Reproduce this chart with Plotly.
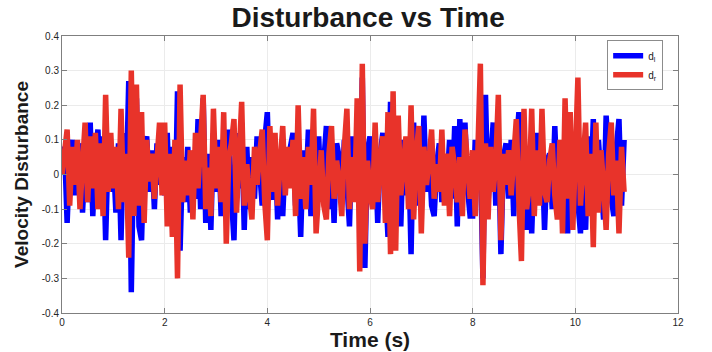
import plotly.graph_objects as go

dt = 0.05

# Estimated samples, one row per second (t = 0.00 .. 10.95 in steps of 0.05)
d_l = [
    0.00, 0.08, -0.14, 0.05, 0.10, -0.06, 0.02, 0.09, -0.11, 0.04, -0.08, 0.15, -0.12, 0.06, 0.13, -0.07, 0.11, -0.19, 0.08, -0.05,
    0.05, -0.11, 0.09, -0.19, 0.12, -0.05, 0.27, -0.34, 0.10, 0.22, -0.15, -0.19, 0.08, 0.11, -0.05, 0.07, -0.10, 0.09, -0.03, 0.14,
    -0.06, 0.12, -0.10, 0.08, -0.14, 0.24, -0.22, 0.05, -0.08, 0.08, -0.11, 0.03, -0.07, 0.16, -0.10, 0.22, -0.14, 0.06, -0.16, 0.12,
    -0.05, 0.10, -0.12, 0.07, -0.09, 0.13, -0.06, -0.19, 0.12, -0.04, 0.15, -0.16, 0.08, -0.10, 0.05, -0.07, 0.11, -0.01, -0.09, 0.10,
    0.18, -0.06, -0.07, 0.09, -0.13, 0.06, -0.12, 0.05, -0.03, 0.08, 0.12, -0.09, 0.04, -0.18, 0.07, -0.05, 0.13, -0.12, 0.06, -0.08,
    0.11, -0.07, 0.03, 0.14, -0.10, 0.06, -0.14, 0.09, 0.05, -0.08, 0.10, -0.04, -0.15, 0.11, -0.06, 0.08, -0.10, 0.28, -0.27, 0.07,
    0.11, -0.04, 0.09, -0.14, 0.06, 0.12, -0.07, -0.18, 0.21, -0.12, 0.14, -0.04, -0.15, 0.10, -0.06, 0.08, -0.23, 0.15, -0.09, 0.05,
    -0.10, 0.17, -0.05, 0.07, -0.09, -0.12, 0.03, 0.09, -0.08, 0.05, -0.03, 0.10, -0.07, 0.14, -0.15, 0.16, -0.06, 0.15, -0.04, -0.12,
    -0.12, 0.10, -0.05, 0.06, -0.30, 0.23, -0.08, 0.04, 0.15, -0.09, 0.11, -0.23, 0.05, 0.09, -0.07, 0.10, -0.12, 0.08, 0.18, -0.14,
    0.12, -0.16, 0.08, -0.17, 0.05, 0.12, -0.06, 0.09, -0.16, 0.04, 0.06, -0.10, 0.14, -0.05, 0.08, -0.11, 0.13, -0.17, 0.07, -0.04,
    0.09, -0.08, -0.17, 0.06, -0.16, 0.11, -0.05, 0.16, -0.08, 0.10, -0.04, -0.13, 0.17, 0.06, -0.07, -0.12, 0.08, 0.16, -0.09, 0.10,
]

d_r = [
    0.00, 0.06, 0.13, -0.09, 0.08, -0.03, 0.10, -0.10, 0.05, 0.15, -0.08, 0.11, -0.04, 0.12, -0.10, 0.09, -0.12, 0.23, -0.05, 0.12,
    -0.04, 0.08, -0.10, 0.19, -0.08, 0.06, -0.24, 0.30, -0.12, 0.26, -0.09, 0.18, -0.14, 0.10, -0.02, 0.06, -0.07, 0.04, 0.15, -0.06,
    0.15, -0.15, 0.06, -0.18, 0.10, -0.30, 0.26, -0.08, 0.04, -0.06, 0.07, -0.13, 0.12, -0.04, 0.09, 0.23, -0.10, 0.02, -0.12, 0.19,
    -0.04, 0.08, -0.08, 0.18, -0.20, 0.05, 0.09, 0.16, -0.11, 0.06, 0.21, -0.09, 0.03, -0.06, -0.13, 0.08, -0.03, 0.06, 0.13, -0.08,
    -0.19, 0.14, -0.05, 0.12, -0.09, 0.03, 0.14, -0.06, 0.08, -0.04, 0.10, -0.12, 0.20, -0.07, 0.05, -0.10, 0.08, -0.03, 0.19, -0.17,
    -0.04, 0.07, -0.09, -0.13, 0.06, 0.14, -0.07, 0.04, -0.02, -0.12, 0.08, 0.19, -0.10, 0.05, -0.08, 0.22, -0.28, 0.32, -0.20, 0.04,
    -0.05, -0.10, 0.15, -0.08, 0.04, 0.11, -0.14, 0.18, -0.23, 0.24, -0.22, 0.17, -0.06, 0.03, 0.11, -0.10, 0.20, -0.13, 0.06, 0.14,
    -0.17, 0.08, -0.03, 0.04, 0.13, -0.07, 0.03, -0.05, 0.13, -0.09, 0.06, -0.12, 0.08, 0.02, -0.08, 0.05, -0.12, 0.13, 0.03, -0.07,
    0.07, -0.12, 0.06, 0.32, -0.32, 0.09, -0.13, 0.08, -0.05, 0.03, 0.23, -0.19, 0.06, -0.03, 0.07, -0.06, 0.05, 0.16, -0.08, -0.25,
    0.19, -0.10, -0.04, 0.19, -0.12, 0.07, -0.09, 0.19, -0.05, -0.08, 0.04, 0.09, -0.06, -0.13, 0.10, -0.17, 0.22, -0.07, 0.18, -0.16,
    0.05, 0.28, -0.09, 0.04, 0.15, -0.12, 0.06, -0.21, 0.15, -0.11, 0.07, -0.03, -0.16, 0.06, 0.15, -0.06, 0.04, -0.17, 0.08, -0.05,
]

time = [round(i * dt, 2) for i in range(len(d_l))]

x_ticks = [0, 2, 4, 6, 8, 10, 12]
y_ticks = [-0.4, -0.3, -0.2, -0.1, 0, 0.1, 0.2, 0.3, 0.4]
y_tick_labels = ["-0.4", "-0.3", "-0.2", "-0.1", "0", "0.1", "0.2", "0.3", "0.4"]

FONT = "Liberation Sans, Arial, sans-serif"

fig = go.Figure()
fig.add_trace(go.Scatter(x=time, y=d_l, mode="lines", name="d<sub>l</sub>",
                         line=dict(color="#0000ff", width=5.5)))
fig.add_trace(go.Scatter(x=time, y=d_r, mode="lines", name="d<sub>r</sub>",
                         line=dict(color="#e8332a", width=5.5)))

axis_common = dict(
    showgrid=True, gridcolor="#ebebeb", gridwidth=1,
    showline=True, linecolor="#7f7f7f", linewidth=1, mirror="ticks",
    ticks="inside", ticklen=5, tickcolor="#7f7f7f",
    zeroline=False, automargin=False,
    tickfont=dict(family=FONT, size=10, color="#262626"),
)

fig.update_layout(
    width=712, height=352,
    margin=dict(l=62, r=34, t=36, b=39),
    paper_bgcolor="white", plot_bgcolor="white",
    title=dict(text="<b>Disturbance vs Time</b>", x=0.517, xanchor="center", y=0.95, yanchor="middle",
               font=dict(family=FONT, size=28, color="#1a1a1a")),
    xaxis=dict(range=[0, 12], tickvals=x_ticks, ticktext=[str(v) for v in x_ticks],
               title=dict(text="<b>Time (s)</b>", standoff=4,
                          font=dict(family=FONT, size=21, color="#1a1a1a")),
               **axis_common),
    yaxis=dict(range=[-0.4, 0.4], tickvals=y_ticks, ticktext=y_tick_labels,
               title=dict(text="<b>Velocity Disturbance</b>", standoff=8,
                          font=dict(family=FONT, size=19, color="#1a1a1a")),
               **axis_common),
    legend=dict(x=0.885, y=0.985, xanchor="left", yanchor="top",
                bgcolor="white", bordercolor="#8c8c8c", borderwidth=1,
                font=dict(family=FONT, size=10, color="#1a1a1a"),
                tracegroupgap=0, itemwidth=30),
    showlegend=True,
)

fig.write_html("out.html")
